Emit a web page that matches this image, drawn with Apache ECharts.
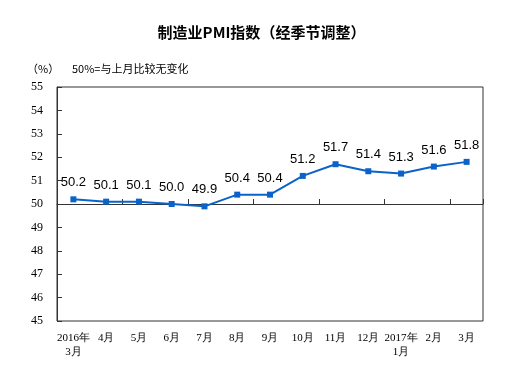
<!DOCTYPE html>
<html>
<head>
<meta charset="utf-8">
<script src="https://cdn.jsdelivr.net/npm/echarts@6/dist/echarts.min.js"></script>
<style>
  html, body { margin: 0; padding: 0; background: #fff; }
  #main { width: 523px; height: 377px; }
</style>
</head>
<body>
<div id="main"></div>
<script>
// 月份（类目）
var months = ['2016年\n3月', '4月', '5月', '6月', '7月', '8月', '9月', '10月', '11月', '12月', '2017年\n1月', '2月', '3月'];
// 制造业PMI（经季节调整）
var pmi = [50.2, 50.1, 50.1, 50.0, 49.9, 50.4, 50.4, 51.2, 51.7, 51.4, 51.3, 51.6, 51.8];
var yMin = 45, yMax = 55, yStep = 1, baseLine = 50;

var myChart = echarts.init(document.getElementById('main'));
var gridTop = 87, gridBottom = 56;
var gridH = 377 - gridTop - gridBottom;

option = {
    backgroundColor: '#fff',
    title: [{
        text: '制造业PMI指数（经季节调整）',
        left: 'center',
        top: 20,
        textStyle: {
            fontFamily: 'Noto Sans CJK SC',
            fontSize: 15,
            fontWeight: 'bold',
            color: '#000'
        }
    }, {
        text: '（%）',
        left: 22,
        top: 58,
        textStyle: { fontFamily: 'Noto Sans CJK SC', fontSize: 11, fontWeight: 'normal', color: '#000' }
    }, {
        text: '50%=与上月比较无变化',
        left: 67,
        top: 58,
        textStyle: { fontFamily: 'Noto Sans CJK SC', fontSize: 11, fontWeight: 'normal', color: '#000' }
    }],
    grid: {
        left: 57,
        right: 40,
        top: gridTop,
        bottom: gridBottom,
        show: true,
        borderColor: '#333',
        borderWidth: 1,
        containLabel: false
    },
    xAxis: [{
        // 标签在底部
        type: 'category',
        data: months,
        position: 'bottom',
        axisLine: { show: false },
        axisTick: { show: false },
        axisLabel: {
            interval: 0,
            margin: 10,
            fontFamily: 'Liberation Serif',
            fontSize: 11,
            color: '#000',
            lineHeight: 14
        }
    }, {
        // 50 处的横线和刻度
        type: 'category',
        data: months,
        position: 'bottom',
        offset: -gridH * (baseLine - yMin) / (yMax - yMin),
        axisLine: { show: true, lineStyle: { color: '#333', width: 1 } },
        axisTick: { show: true, inside: true, length: 5, lineStyle: { color: '#333' } },
        axisLabel: { show: false }
    }],
    yAxis: {
        type: 'value',
        min: yMin,
        max: yMax,
        interval: yStep,
        axisLine: { show: true, lineStyle: { color: '#333' } },
        axisTick: { show: true, inside: true, length: 5, lineStyle: { color: '#333' } },
        splitLine: { show: false },
        axisLabel: {
            margin: 14,
            fontFamily: 'Liberation Serif',
            fontSize: 12,
            color: '#000'
        }
    },
    series: [{
        name: 'PMI',
        type: 'line',
        xAxisIndex: 0,
        data: pmi,
        symbol: 'rect',
        symbolSize: 6,
        lineStyle: { color: '#0B63C9', width: 2 },
        itemStyle: { color: '#0B63C9' },
        label: {
            show: true,
            position: 'top',
            distance: 7,
            fontFamily: 'Liberation Sans',
            fontSize: 13,
            color: '#000',
            formatter: function (p) { return p.value.toFixed(1); }
        },
        animation: false
    }]
};
myChart.setOption(option);
</script>
</body>
</html>
